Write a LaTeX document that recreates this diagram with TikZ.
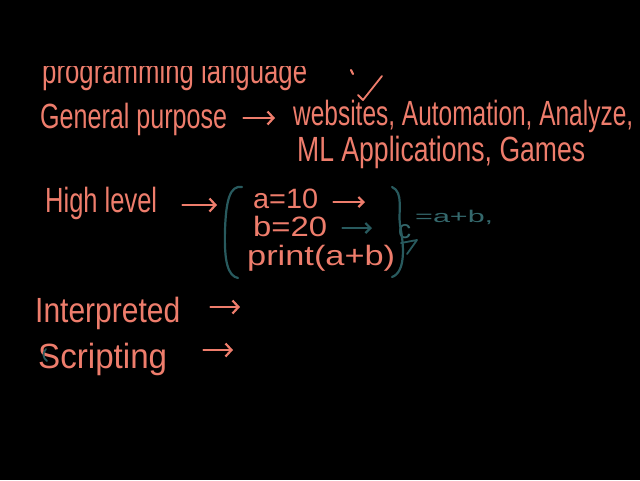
\documentclass[tikz,border=0pt]{standalone}
\usepackage{fontspec}
\usepackage{graphicx}
\usetikzlibrary{arrows.meta}
\newfontfamily\hand{Liberation Sans}
\definecolor{chalk}{RGB}{238,125,108}
\definecolor{inkteal}{RGB}{40,90,94}
\definecolor{softteal}{RGB}{52,104,108}
% stretch a handwritten word to the width it takes on the board
\newcommand{\hw}[2]{\resizebox{#1pt}{\height}{#2}}

\begin{document}
\begin{tikzpicture}[x=1pt,y=-1pt,
  txt/.style={inner sep=0pt, anchor=base west, text=chalk, font=\hand\fontsize{35}{40}\selectfont},
  code/.style={txt, font=\hand\fontsize{28}{32}\selectfont},
  note/.style={txt, text=softteal, font=\hand\fontsize{17}{20}\selectfont},
  pen/.style={draw=chalk, line width=2.2pt, line cap=round, line join=round},
  tealpen/.style={pen, draw=inkteal},
  harrow/.style={pen, -{Straight Barb[length=6pt,width=13pt]}}]
  % Draw the board
  \fill[black] (0,0) rectangle (640,480);
  \useasboundingbox (0,0) rectangle (640,480);

  % Line scrolled half out of view
  \begin{scope}
    \clip (0,66) rectangle (640,480);
    \node[txt] (prog) at (42,83) {\hw{265}{programming language}};
  \end{scope}
  \draw[pen] (351,70) -- (353,74);
  \draw[pen, line width=1.8pt] (358,95) -- (363,100) -- (382,76);

  % Labels on the left
  \node[txt] (gp) at (40,128) {\hw{187}{General purpose}};
  \node[txt] (hl) at (45,212) {\hw{112}{High level}};
  \node[txt] (interp) at (35,322) {\hw{145}{Interpreted}};
  \node[txt] (script) at (38,368) {\hw{129}{Scripting}};

  % Uses
  \node[txt] (uses1) at (293,125) {\hw{340}{websites, Automation, Analyze,}};
  \node[txt] (uses2) at (297,161) {\hw{288}{ML Applications, Games}};

  % Code lines
  \node[code] (a10) at (253,208) {\hw{65}{a=10}};
  \node[code] (b20) at (253,236) {\hw{74}{b=20}};
  \node[code] (prt) at (247,265) {\hw{148}{print(a+b)}};
  \node[note, font=\hand\fontsize{26}{28}\selectfont] (sumc) at (398,238) {c};
  \node[note] (sumab) at (415,222) {\hw{78}{=a+b,}};

  % Arrows
  \coordinate (gpEnd) at (275,118);
  \coordinate (hlEnd) at (217,205);
  \coordinate (aEnd) at (365,202);
  \coordinate (bEnd) at (372,228);
  \coordinate (ipEnd) at (240,307);
  \coordinate (scEnd) at (233,350);
  \draw[harrow, shorten <=16pt] (gp.east |- gpEnd) -- (gpEnd);
  \draw[harrow, shorten <=25pt] (hl.east |- hlEnd) -- (hlEnd);
  \draw[harrow, shorten <=15pt, -{Straight Barb[length=5pt,width=10pt]}] (a10.east |- aEnd) -- (aEnd);
  \draw[harrow, draw=inkteal, shorten <=15pt, -{Straight Barb[length=5pt,width=10pt]}] (b20.east |- bEnd) -- (bEnd);
  \draw[harrow, shorten <=30pt] (interp.east |- ipEnd) -- (ipEnd);
  \draw[harrow, shorten <=36pt] (script.east |- scEnd) -- (scEnd);

  % Braces round the code
  \draw[tealpen] (242,187) .. controls (230,185) and (226,200) .. (225,230)
    .. controls (224,262) and (228,276) .. (238,278);
  \draw[tealpen] (392,187) .. controls (404,192) and (398,212) .. (400,225)
    .. controls (404,245) and (406,272) .. (392,277);
  \draw[tealpen, line width=1.8pt] (401,243) -- (417,240) -- (407,254);
  \draw[tealpen, line width=1.8pt] (46,349) .. controls (42,353) and (43,358) .. (47,361);
\end{tikzpicture}
\end{document}
